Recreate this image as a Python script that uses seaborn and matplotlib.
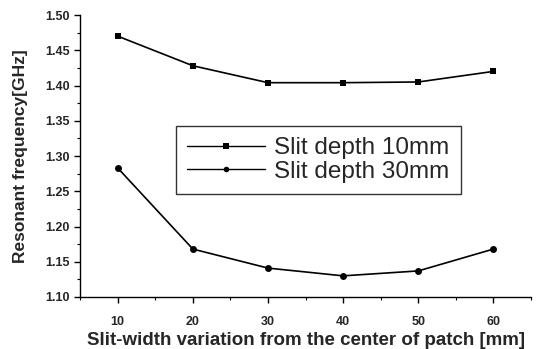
import matplotlib
matplotlib.use("Agg")
import matplotlib.pyplot as plt
import seaborn as sns
import pandas as pd
from matplotlib.ticker import MultipleLocator

# slit-width variation [mm]
width = [10, 20, 30, 40, 50, 60]
# resonant frequency [GHz]
f_10mm = [1.470, 1.428, 1.404, 1.404, 1.405, 1.420]
f_30mm = [1.283, 1.168, 1.141, 1.130, 1.137, 1.168]
labels = ["Slit depth 10mm", "Slit depth 30mm"]

df = pd.concat([
    pd.DataFrame({"w": width, "f": f_10mm, "series": labels[0]}),
    pd.DataFrame({"w": width, "f": f_30mm, "series": labels[1]}),
])

sns.set_theme(style="ticks")
plt.rcParams['font.family'] = ['Liberation Sans', 'DejaVu Sans']

fig = plt.figure(figsize=(5.38, 3.49), dpi=100)
ax = fig.add_axes([0.149, 0.149, 0.838, 0.808])

sns.lineplot(data=df, x="w", y="f", hue="series", style="series",
             palette=["black", "black"], markers=["s", "o"], dashes=False,
             markersize=5, linewidth=1.2, markeredgewidth=0, ax=ax)

ax.set_xlim(5, 65)
ax.set_ylim(1.10, 1.50)
ax.xaxis.set_major_locator(MultipleLocator(10))
ax.xaxis.set_minor_locator(MultipleLocator(5))
ax.yaxis.set_major_locator(MultipleLocator(0.05))
ax.yaxis.set_minor_locator(MultipleLocator(0.025))
ax.yaxis.set_major_formatter(matplotlib.ticker.FormatStrFormatter("%.2f"))
ax.tick_params(which="major", length=4, width=1, labelsize=9, color="black")
ax.tick_params(axis="x", which="major", pad=10)
ax.tick_params(which="minor", length=2, width=0.8, color="black")
for t in ax.get_xticklabels() + ax.get_yticklabels():
    t.set_fontweight("bold")

sns.despine(ax=ax)
for s in ["left", "bottom"]:
    ax.spines[s].set_color("black")
    ax.spines[s].set_linewidth(1)

ax.set_xlabel("Slit-width variation from the center of patch [mm]",
              fontsize=13.5, fontweight="bold")
ax.set_ylabel("Resonant frequency[GHz]", fontsize=12.5, fontweight="bold")
ax.xaxis.set_label_coords(0.5, -0.125)
ax.yaxis.set_label_coords(-0.115, 0.5)

leg = ax.legend(loc="center", bbox_to_anchor=(0.528, 0.486), fontsize=17.5,
                frameon=True, fancybox=False, edgecolor="black",
                handlelength=3.2, handletextpad=0.4, borderpad=0.45,
                labelspacing=0.05, borderaxespad=0)
leg.get_frame().set_linewidth(1)
for h in leg.legend_handles:
    h.set_markersize(4)
    h.set_linewidth(1)

fig.savefig("out.png", dpi=100)
